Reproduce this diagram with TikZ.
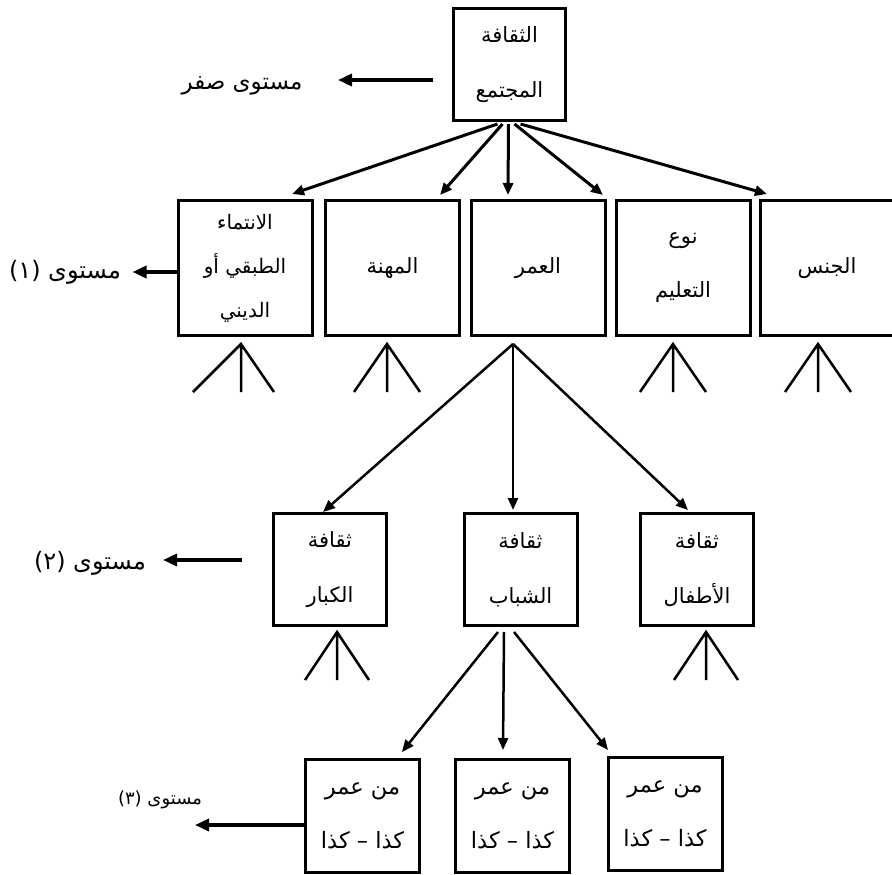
\documentclass[tikz,border=0pt]{standalone}
\usepackage{fontspec}
\newfontfamily\arabicfont[Script=Arabic]{DejaVu Sans}
\TeXXeTstate=1
\usetikzlibrary{arrows.meta,calc}
\newcommand\artxt[1]{\beginR #1\endR}
\begin{document}
\begin{tikzpicture}[x=1pt,y=-1pt,
  box/.style={draw,line width=3pt,inner sep=0pt,align=center,
    font=\arabicfont\fontsize{21}{55}\selectfont},
  lone/.style={box,minimum width=134pt,minimum height=135pt},
  ltwo/.style={box,minimum width=113pt,minimum height=112pt},
  lthree/.style={box,minimum width=114pt,minimum height=113pt,
    font=\arabicfont\fontsize{22.5}{54}\selectfont},
  lbl/.style={inner sep=0pt,font=\arabicfont\fontsize{24}{28}\selectfont},
  arr/.style={-{Triangle[length=12pt,width=10pt]},line width=3pt},
  thinarr/.style={-{Triangle[length=12pt,width=10pt]},line width=2.5pt},
  larr/.style={-{Triangle[length=14pt,width=12pt]},line width=3.5pt},
  pics/fork/.style 2 args={code={\draw[line width=2.5pt] (-#1,48) -- (0,0) -- (#2,48) (0,0) -- (0,48);}}]
\useasboundingbox (0,0) rectangle (892,875);
\fill[white] (0,0) rectangle (892,875);

% level 0
\node[box,minimum width=112pt,minimum height=112pt] (top) at (509.5,64.5) {\artxt{الثقافة}\\\artxt{المجتمع}};
% level 1
\node[lone,font=\arabicfont\fontsize{20}{44}\selectfont] (b1) at (245,268) {\artxt{الانتماء}\\\artxt{الطبقي أو}\\\artxt{الديني}};
\node[lone] (b2) at (392.5,268) {\artxt{المهنة}};
\node[lone] (b3) at (538,268) {\artxt{العمر}};
\node[lone,font=\arabicfont\fontsize{21}{54}\selectfont] (b4) at (683,268) {\artxt{نوع}\\\artxt{التعليم}};
\node[lone] (b5) at (827,268) {\artxt{الجنس}};
% level 2
\node[ltwo] (k) at (330,569.5) {\artxt{ثقافة}\\\artxt{الكبار}};
\node[ltwo] (s) at (520.5,569.5) {\artxt{ثقافة}\\\artxt{الشباب}};
\node[ltwo] (a) at (697,569.5) {\artxt{ثقافة}\\\artxt{الأطفال}};
% level 3
\node[lthree] (m1) at (362.5,815.5) {\artxt{من عمر}\\\artxt{كذا – كذا}};
\node[lthree] (m2) at (512.5,815.5) {\artxt{من عمر}\\\artxt{كذا – كذا}};
\node[lthree] (m3) at (665,813.5) {\artxt{من عمر}\\\artxt{كذا – كذا}};

% level labels
\node[lbl,font=\arabicfont\fontsize{23}{28}\selectfont] (l0) at (242,86) {\artxt{مستوى صفر}};
\node[lbl] (l1) at (65,272) {(١) \artxt{مستوى}};
\node[lbl] (l2) at (90,563) {(٢) \artxt{مستوى}};
\node[lbl,font=\arabicfont\fontsize{18}{22}\selectfont] (l3) at (160,800) {(٣) \artxt{مستوى}};

\coordinate (e0) at ($(top.west)+(-114,15.5)$);
\coordinate (e1) at ($(b1.west)+(-44,4)$);
\coordinate (e2) at ($(k.west)+(-109,-9.5)$);
\coordinate (e3) at ($(m1.west)+(-109,9.5)$);
\draw[larr] ($(top.west)+(-19,15.5)$) -- (e0);
\draw[larr] ($(b1.west)+(0,4)$) -- (e1);
\draw[larr] ($(k.west)+(-30,-9.5)$) -- (e2);
\draw[larr] ($(m1.west)+(0,9.5)$) -- (e3);

% level 0 -> level 1
\draw[arr] ($(top.south)+(-12,2)$) -- ($(b1.north)+(47,-5)$);
\draw[arr] ($(top.south)+(-7,2)$) -- ($(b2.north)+(47.5,-4)$);
\draw[arr] ($(top.south)+(-1,2)$) -- ($(b3.north)+(-30,-4)$);
\draw[arr] ($(top.south)+(5,2)$) -- ($(b3.north)+(65,-4)$);
\draw[arr] ($(top.south)+(11,2)$) -- ($(b5.north)+(-60,-5)$);

% age -> level 2
\coordinate (apex) at ($(b3.south)+(-25,7)$);
\draw[line width=2.5pt] (apex) -- ($(b3.south)+(-25,60)$);
\draw[thinarr] (apex) -- ($(k.north)+(-7,0)$);
\draw[thinarr] (apex) -- ($(s.north)+(-7.5,-2)$);
\draw[thinarr] (apex) -- ($(a.north)+(-9,-2)$);

% youth -> level 3
\draw[thinarr] ($(s.south)+(-22.5,5)$) -- ($(m1.north)+(39.5,-5.5)$);
\draw[thinarr] ($(s.south)+(-16.5,5)$) -- ($(m2.north)+(-9.5,-7.5)$);
\draw[thinarr] ($(s.south)+(-6.5,5)$) -- ($(m3.north)+(-57,-5.5)$);

% forks
\pic at ($(b1.south)+(-4,7)$) {fork={48}{33}};
\pic at ($(b2.south)+(-5.5,7)$) {fork={33}{33}};
\pic at ($(b4.south)+(-10,7)$) {fork={33}{33}};
\pic at ($(b5.south)+(-9,7)$) {fork={33}{33}};
\pic at ($(k.south)+(7,5)$) {fork={32}{32}};
\pic at ($(a.south)+(9,5)$) {fork={32}{32}};
\end{tikzpicture}
\end{document}
